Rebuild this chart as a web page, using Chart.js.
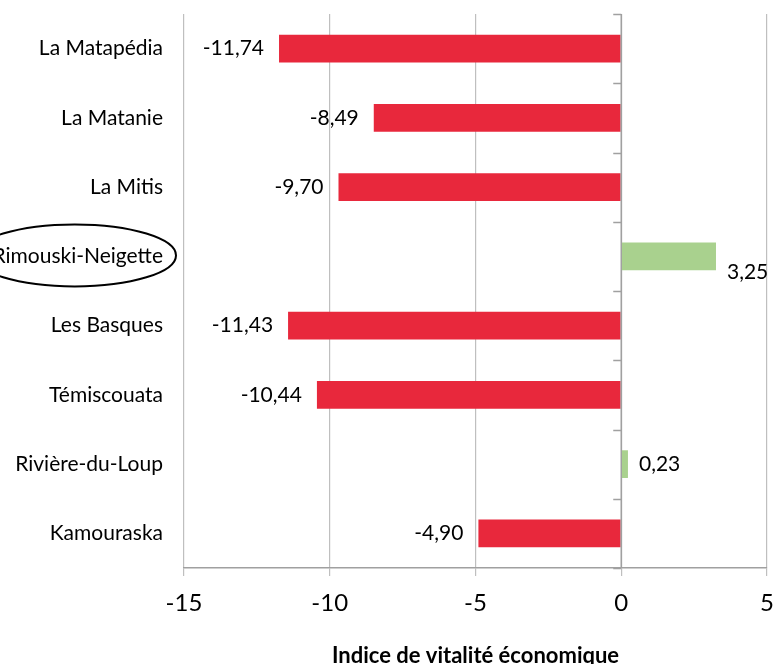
<!DOCTYPE html>
<html>
<head>
<meta charset="utf-8">
<script src="https://cdn.jsdelivr.net/npm/chart.js@4"></script>
<style>
  html, body { margin: 0; padding: 0; background: #fff; }
  #wrap { width: 773px; height: 664px; }
</style>
</head>
<body>
<div id="wrap"><canvas id="myChart" width="773" height="664"></canvas></div>
<script>
const labels = [
    'La Matapédia',
    'La Matanie',
    'La Mitis',
    'Rimouski-Neigette',
    'Les Basques',
    'Témiscouata',
    'Rivière-du-Loup',
    'Kamouraska',
];
const values = [-11.74, -8.49, -9.70, 3.25, -11.43, -10.44, 0.23, -4.90];
const circled = 'Rimouski-Neigette';
const xTitle = 'Indice de vitalité économique';

const red = 'rgb(232, 40, 60)';
const green = 'rgb(169, 209, 142)';
const gridGray = '#bfbfbf';
const axisGray = '#a0a0a0';
const font = 'Lato, "Open Sans", sans-serif';
const labelSize = 21;
const labelPad = 13;

// value labels, zero-line tick marks and the ellipse
const extras = {
    id: 'extras',
    afterDatasetsDraw(chart) {
        const ctx = chart.ctx;
        const x = chart.scales.x;
        const y = chart.scales.y;
        const area = chart.chartArea;
        const x0 = x.getPixelForValue(0);

        ctx.save();
        // axis line at zero with outward ticks between categories
        ctx.strokeStyle = axisGray;
        ctx.lineWidth = 1.5;
        ctx.beginPath();
        ctx.moveTo(x0, area.top);
        ctx.lineTo(x0, area.bottom);
        const band = (y.getPixelForValue(1) - y.getPixelForValue(0));
        for (let i = 0; i <= labels.length; i++) {
            const py = Math.round(y.getPixelForValue(i) - band / 2) + 0.5;
            ctx.moveTo(x0 - 8, py);
            ctx.lineTo(x0, py);
        }
        ctx.stroke();

        // labels
        ctx.fillStyle = '#000';
        ctx.font = labelSize + 'px ' + font;
        ctx.textBaseline = 'middle';
        values.forEach((v, i) => {
            const px = x.getPixelForValue(v);
            const py = y.getPixelForValue(i);
            const txt = v.toFixed(2).replace('.', ',');
            if (v < 0) {
                ctx.textAlign = 'right';
                ctx.fillText(txt, px - 15, py);
            } else {
                ctx.textAlign = 'left';
                const w = ctx.measureText(txt).width;
                let ty = py;
                if (px + 11 + w > area.right - 20) ty += 16;
                ctx.fillText(txt, px + 11, ty);
            }
        });

        // ellipse round the circled label
        const ci = labels.indexOf(circled);
        const cy = y.getPixelForValue(ci);
        const w = ctx.measureText(circled).width;
        const right = y.right - 8 - labelPad;
        ctx.strokeStyle = '#000';
        ctx.lineWidth = 2;
        ctx.beginPath();
        ctx.ellipse(right - w / 2 - 3, cy - 1, w / 2 + 16, 31, 0, 0, Math.PI * 2);
        ctx.stroke();
        ctx.restore();
    }
};

const data = {
    labels: labels,
    datasets: [{
        data: values,
        backgroundColor: values.map(v => v < 0 ? red : green),
        borderWidth: 0,
        barPercentage: 0.4,
        categoryPercentage: 1,
    }]
};

const config = {
    type: 'bar',
    data: data,
    options: {
        indexAxis: 'y',
        responsive: false,
        animation: false,
        layout: { padding: { top: 14, right: 6, bottom: 0, left: 0 } },
        plugins: {
            legend: { display: false },
            tooltip: { enabled: false },
        },
        scales: {
            x: {
                min: -15,
                max: 5,
                ticks: {
                    stepSize: 5,
                    color: '#000',
                    font: { family: font, size: 24 },
                    padding: 13,
                },
                grid: {
                    color: gridGray,
                    lineWidth: 1.2,
                    tickLength: 8,
                },
                border: { color: axisGray, width: 1.5 },
                title: {
                    display: true,
                    text: xTitle,
                    color: '#000',
                    font: { family: font, size: 22, weight: 'bold', lineHeight: 1 },
                    padding: { top: 0, bottom: -3 },
                },
                afterFit(scale) {
                    scale.height = 96;
                    scale.paddingLeft = 0;
                    scale.paddingRight = 0;
                },
            },
            y: {
                ticks: {
                    color: '#000',
                    font: { family: font, size: labelSize },
                    padding: labelPad,
                },
                grid: { display: false },
                border: { display: false },
                afterFit(scale) {
                    scale.width = 184;
                    scale.paddingTop = 0;
                    scale.paddingBottom = 0;
                },
            }
        }
    },
    plugins: [extras]
};

const myChart = new Chart(
    document.getElementById('myChart'),
    config
);
</script>
</body>
</html>
